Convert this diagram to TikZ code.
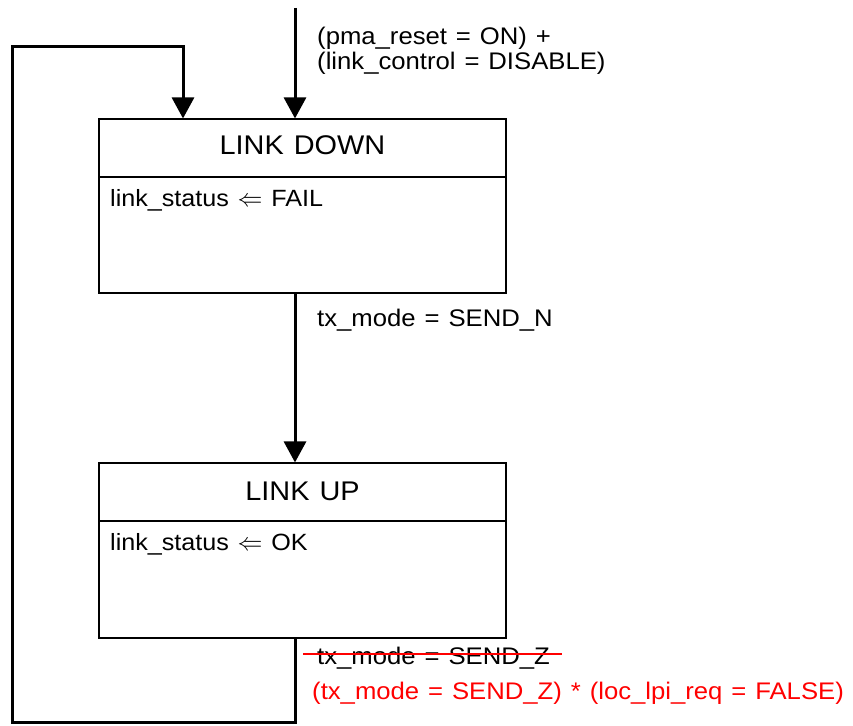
\documentclass[tikz,border=0pt]{standalone}
\usepackage{fontspec}
\setmainfont{Liberation Sans}[FakeStretch=1.07,WordSpace=1.25]
\usetikzlibrary{arrows.meta,calc}
\definecolor{redmark}{RGB}{255,0,0}
\newcommand{\assignarrow}{\ensuremath{\Leftarrow}}
\tikzset{
  px/.style={x=1pt,y=-1pt},
  statebox/.style={draw=black,line width=1.1pt},
  trans/.style={line width=3pt,-{Triangle[length=21pt,width=22pt]}},
  loopline/.style={line width=3pt},
  body/.style={font=\fontsize{23.5}{28}\selectfont,inner sep=0pt,anchor=base west},
  title/.style={font=\fontsize{27}{32}\selectfont,inner sep=0pt,anchor=base},
  cond/.style={font=\fontsize{24}{28}\selectfont,inner sep=0pt,anchor=base west},
}
\begin{document}
\begin{tikzpicture}[px]
\useasboundingbox (0,0) rectangle (853,725);

% LINK DOWN state
\node[statebox,minimum width=407pt,minimum height=174pt,inner sep=0pt] (down) at (302.5,206) {};
\draw[line width=1.1pt] (99,177) -- (506,177);
\node[title] (downt) at (302.5,154.5) {LINK DOWN};
\node[body] (downa) at (110,206) {link\_status \assignarrow{} FAIL};

% LINK UP state
\node[statebox,minimum width=407pt,minimum height=175pt,inner sep=0pt] (up) at (302.5,550.5) {};
\draw[line width=1.1pt] (99,521) -- (506,521);
\node[title] (upt) at (302.5,500) {LINK UP};
\node[body] (upa) at (110,550) {link\_status \assignarrow{} OK};

% entry transition
\coordinate (entry) at (295,8);
\draw[trans] (entry) -- (entry |- down.north);
\node[cond] (c1) at (317,45) {(pma\_reset = ON) +};
\node[cond] (c2) at (317,70) {(link\_control = DISABLE)};

% LINK DOWN -> LINK UP
\draw[trans] (down.south -| 295,0) -- (up.north -| 295,0);
\node[cond] (c3) at (317,326) {tx\_mode = SEND\_N};

% LINK UP -> LINK DOWN loop
\coordinate (l1) at (295,722);
\coordinate (l2) at (12,722);
\coordinate (l3) at (12,47);
\coordinate (l4) at (183,47);
\draw[loopline] (up.south -| 295,0) -- (l1) -- (l2) -- (l3) -- (l4);
\draw[trans] ([yshift=1.5pt]l4) -- (down.north -| l4);
\node[cond] (c4) at (317,664) {tx\_mode = SEND\_Z};
\draw[redmark,line width=2.2pt] ($(c4.base west)+(-14pt,10pt)$) -- ($(c4.base east)+(12pt,10pt)$);
\node[cond,text=redmark] (c5) at (312,699) {(tx\_mode = SEND\_Z) * (loc\_lpi\_req = FALSE)};
\end{tikzpicture}
\end{document}
